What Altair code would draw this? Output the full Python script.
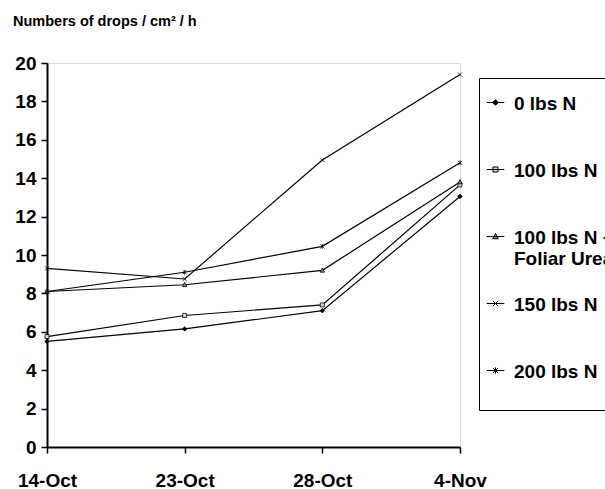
import altair as alt
import pandas as pd
import re

dates = ["14-Oct", "23-Oct", "28-Oct", "4-Nov"]
series_names = ["0 lbs N", "100 lbs N", "100 lbs N + Foliar Urea", "150 lbs N", "200 lbs N"]
s0 = [5.5, 6.15, 7.1, 13.05]
s100 = [5.75, 6.85, 7.4, 13.65]
s100f = [8.1, 8.45, 9.2, 13.8]
s150 = [9.3, 8.75, 14.95, 19.4]
s200 = [8.1, 9.1, 10.45, 14.8]
y_ticks = [0, 2, 4, 6, 8, 10, 12, 14, 16, 18, 20]

rows = []
for name, vals in zip(series_names, [s0, s100, s100f, s150, s200]):
    for d, v in zip(dates, vals):
        rows.append({"date": d, "value": v, "series": name})
df = pd.DataFrame(rows)

FONT = "Liberation Sans"

# chart marker paths (unit square -1..1)
marker_paths = [
    "M0,-1L1,0L0,1L-1,0Z",
    "M-0.9,-0.9H0.9V0.9H-0.9Z",
    "M0,-1.1L1,0.8L-1,0.8Z",
    "M-0.9,-0.9L0.9,0.9M-0.9,0.9L0.9,-0.9",
    "M-0.9,-0.9L0.9,0.9M-0.9,0.9L0.9,-0.9M0,-1.1V1.1",
]


def legend_path(marker, k=0.35, s=1.0):
    toks = re.split(r"([A-Za-z])", marker)
    out = []
    cmd = None
    for tok in toks:
        if tok == "":
            continue
        if tok.isalpha():
            cmd = tok
            out.append(tok)
            continue
        vals = [float(t) for t in tok.split(",")]
        if cmd in ("M", "L"):
            out.append("%.3f,%.3f" % (vals[0] * k, vals[1] * k + s))
        elif cmd == "H":
            out.append("%.3f" % (vals[0] * k))
        elif cmd == "V":
            out.append("%.3f" % (vals[0] * k + s))
    return "M-1.1,%.3fH1.1" % s + "".join(out)


legend_paths = [legend_path(m) for m in marker_paths]
fills = ["#000000", "#d9d9d9", "#8c8c8c", "transparent", "transparent"]
strokes = ["#000000"] * 5

xenc = alt.X("date:O", sort=dates, scale=alt.Scale(type="point", padding=0),
             axis=alt.Axis(title=None, labelAngle=0, labelFont=FONT, labelFontSize=19,
                           labelFontWeight="bold", labelColor="black", domainColor="black",
                           domainWidth=2, tickColor="black", tickSize=6, tickWidth=1.5,
                           labelPadding=18))
yenc = alt.Y("value:Q", scale=alt.Scale(domain=[0, 20], nice=False, zero=True),
             axis=alt.Axis(title=None, values=y_ticks, grid=False, labelFont=FONT,
                           labelFontSize=19, labelFontWeight="bold", labelColor="black",
                           domainColor="black", domainWidth=2, tickColor="black",
                           tickSize=6, tickWidth=1.5, labelPadding=5))

lines = alt.Chart(df).mark_line(color="black", strokeWidth=1.2).encode(
    x=xenc, y=yenc, detail="series:N"
)

points = alt.Chart(df).mark_point(filled=False, stroke="black", strokeWidth=0.8,
                                  size=20, opacity=1).encode(
    x=xenc, y=yenc,
    shape=alt.Shape("series:N", scale=alt.Scale(domain=series_names, range=marker_paths), legend=None),
    fill=alt.Fill("series:N", scale=alt.Scale(domain=series_names, range=fills), legend=None),
)

leg = dict(
    title=None, orient="none", legendX=432, legendY=15,
    padding=7, strokeColor="black",
    symbolSize=256, symbolStrokeWidth=1,
    symbolOpacity=1,
    labelFont=FONT, labelFontSize=19, labelFontWeight="bold",
    labelColor="black", labelBaseline="top", labelOffset=9,
    labelLimit=400, rowPadding=17,
    labelExpr="datum.label == '100 lbs N + Foliar Urea' ? ['100 lbs N +', 'Foliar Urea'] : [datum.label, '']",
)

legend_layer = alt.Chart(df).mark_point(filled=False, strokeWidth=1, size=0).encode(
    x=xenc, y=yenc,
    shape=alt.Shape("series:N", scale=alt.Scale(domain=series_names, range=legend_paths),
                    legend=alt.Legend(**leg)),
    fill=alt.Fill("series:N", scale=alt.Scale(domain=series_names, range=fills),
                  legend=alt.Legend(**leg)),
    stroke=alt.Stroke("series:N", scale=alt.Scale(domain=series_names, range=strokes),
                      legend=alt.Legend(**leg)),
)

chart = alt.layer(lines, points, legend_layer).resolve_scale(
    shape="independent", fill="independent", stroke="independent"
).properties(
    width=413, height=384,
    autosize=alt.AutoSizeParams(type="none"),
    padding={"left": 47, "top": 63, "right": 145, "bottom": 42},
    title=alt.TitleParams("Numbers of drops / cm² / h", anchor="start", frame="group",
                          dx=-34, offset=14, font=FONT, fontSize=14.5, fontWeight="bold",
                          color="black", baseline="alphabetic"),
).configure_view(stroke="black", strokeWidth=1.5).configure_legend(
    strokeWidth=1.5, symbolStrokeWidth=1
).configure(background="white")

chart.save("out.html", embed_options={"renderer": "svg", "actions": False})
